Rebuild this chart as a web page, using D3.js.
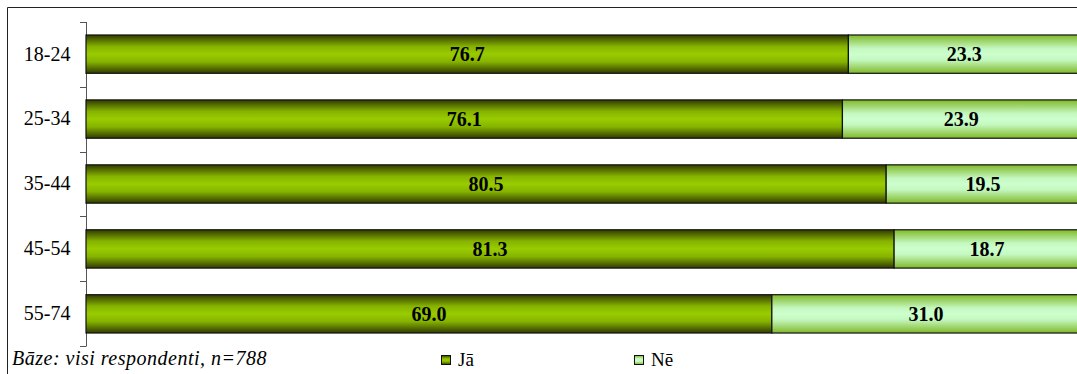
<!DOCTYPE html>
<html><head><meta charset="utf-8">
<script src="https://cdn.jsdelivr.net/npm/d3@7"></script>
<style>body{margin:0;background:#fff}svg{display:block}
text{font-family:"Liberation Serif","Times New Roman","DejaVu Serif",serif;fill:#000}</style>
</head><body>
<script>
const categories = ["18-24","25-34","35-44","45-54","55-74"];
const ja = [76.7, 76.1, 80.5, 81.3, 69.0];
const ne = [23.3, 23.9, 19.5, 18.7, 31.0];
const seriesNames = ["Jā","Nē"];
const footnote = "Bāze: visi respondenti, n=788";

const W = 1077, H = 374;
const FONT = '"Liberation Serif","Times New Roman","DejaVu Serif",serif';
const svg = d3.select("body").append("svg").attr("width", W).attr("height", H);
const defs = svg.append("defs");
function grad(id, stops){
  const g = defs.append("linearGradient").attr("id", id).attr("x1",0).attr("y1",0).attr("x2",0).attr("y2",1);
  stops.forEach(([o,c])=>g.append("stop").attr("offset",o).attr("stop-color",c));
}
grad("gJa", [["0%","#303a00"],["30%","#86b300"],["50%","#99cc00"],["70%","#86b300"],["100%","#303a00"]]);
grad("gNe", [["0%","#80b828"],["35%","#c4f8c0"],["50%","#ccffcc"],["65%","#c4f8c0"],["100%","#80b828"]]);

// frame
svg.append("path").attr("d", `M7.5,${H} V7.5 H${W}`).attr("fill","none").attr("stroke","#222").attr("stroke-width",1);

const x = d3.scaleLinear().domain([0,100]).range([86, 1080]);
const y = d3.scaleBand().domain(categories).range([22, 346]).paddingInner(0.41).paddingOuter(0.2);

// axis
const axis = d3.axisLeft(y).tickSize(0).tickPadding(16);
const ag = svg.append("g").attr("transform","translate(86.5,0)").call(axis);
ag.attr("font-family", FONT);
ag.select(".domain").remove();
ag.selectAll("text").attr("font-family",FONT).attr("font-size",20).attr("fill","#000");
svg.append("line").attr("x1",86.5).attr("x2",86.5).attr("y1",22).attr("y2",346).attr("stroke","#555");
const bandStep = (346-22)/categories.length;
d3.range(categories.length+1).forEach(i=>{
  const yy = Math.round(22 + i*bandStep)+0.5;
  svg.append("line").attr("x1",80).attr("x2",86.5).attr("y1",yy).attr("y2",yy).attr("stroke","#555");
});

const rows = categories.map((c,i)=>({c, ja:ja[i], ne:ne[i]}));
const g = svg.append("g");
rows.forEach(r=>{
  const y0 = y(r.c), h = y.bandwidth();
  g.append("rect").attr("x",x(0)).attr("y",y0).attr("width",x(r.ja)-x(0)).attr("height",h)
    .attr("fill","url(#gJa)").attr("stroke","#111").attr("stroke-width",1.2);
  g.append("rect").attr("x",x(r.ja)).attr("y",y0).attr("width",x(r.ja+r.ne)-x(r.ja)).attr("height",h)
    .attr("fill","url(#gNe)").attr("stroke","#111").attr("stroke-width",1.2);
  g.append("text").attr("x",(x(0)+x(r.ja))/2).attr("y",y0+h/2).attr("dy","0.35em")
    .attr("text-anchor","middle").attr("font-family",FONT).attr("font-weight","bold")
    .attr("font-size",20).text(r.ja.toFixed(1));
  g.append("text").attr("x",(x(r.ja)+x(r.ja+r.ne))/2).attr("y",y0+h/2).attr("dy","0.35em")
    .attr("text-anchor","middle").attr("font-family",FONT).attr("font-weight","bold")
    .attr("font-size",20).text(r.ne.toFixed(1));
});

svg.append("text").attr("x",12).attr("y",365).attr("font-family",FONT)
  .attr("font-style","italic").attr("font-size",20).attr("letter-spacing",0.5).text(footnote);

const legX = [441, 634];
const legFill = ["url(#gJa)","url(#gNe)"];
seriesNames.forEach((n,i)=>{
  svg.append("rect").attr("x",legX[i]+0.5).attr("y",355.5).attr("width",9).attr("height",9)
    .attr("fill",legFill[i]).attr("stroke","#111");
  svg.append("text").attr("x",legX[i]+17).attr("y",366).attr("font-family",FONT)
    .attr("font-size",19).text(n);
});
</script>
</body></html>
